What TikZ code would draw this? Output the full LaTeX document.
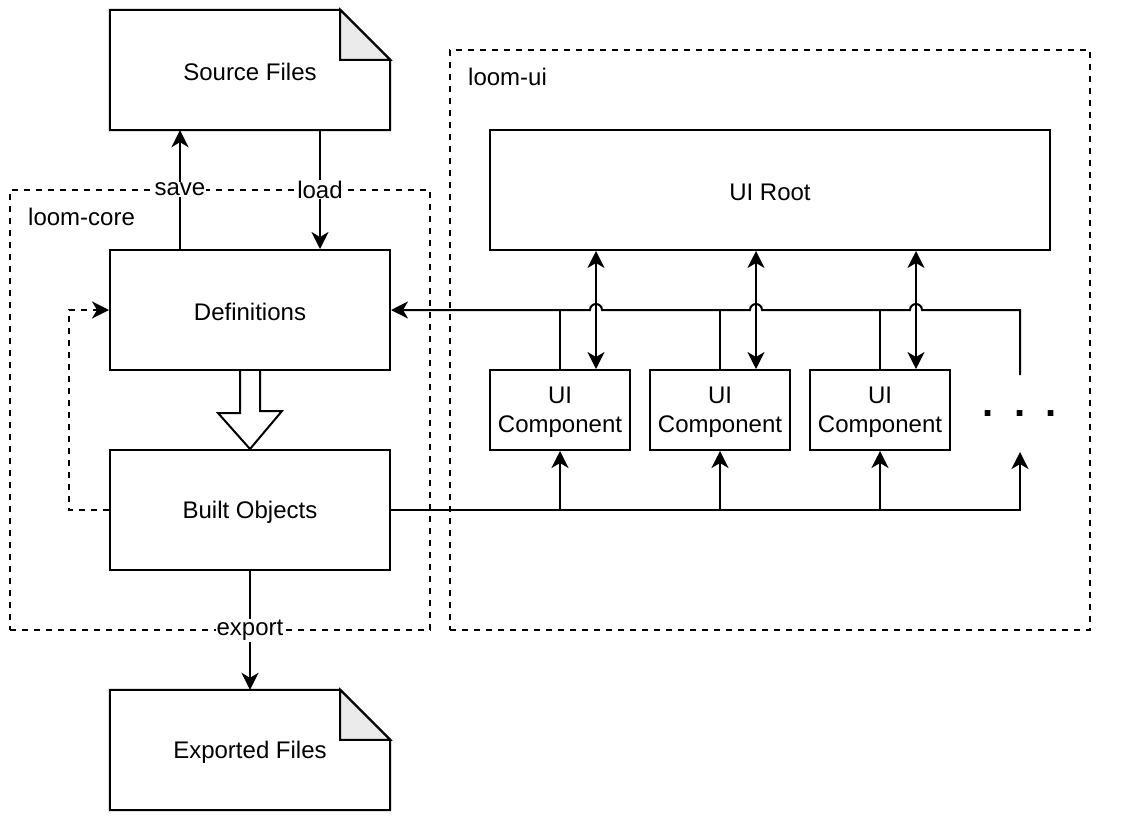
\documentclass[tikz,border=0pt]{standalone}
\usepackage{fontspec}
\setmainfont{Liberation Sans}
\usetikzlibrary{arrows.meta,calc}
\newcommand\docoutline[1]{%
  \draw[line width=2pt,line join=miter] (#1.north west) -- ([xshift=-50pt]#1.north east) -- ([yshift=-50pt]#1.north east) -- (#1.south east) -- (#1.south west) -- cycle;
  \filldraw[line width=2pt,fill=foldgray,line join=miter] ([xshift=-50pt]#1.north east) -- ([xshift=-50pt,yshift=-50pt]#1.north east) -- ([yshift=-50pt]#1.north east) -- cycle;}
\newcommand\lowr[1]{\raisebox{-2pt}[\height][\depth]{#1}}
\definecolor{foldgray}{HTML}{EBEBEB}
\begin{document}
\begin{tikzpicture}[x=1pt,y=-1pt,
  every node/.style={font=\fontsize{24}{29}\selectfont},
  box/.style={draw,line width=2pt,inner sep=0pt,align=center},
  docnode/.style={inner sep=0pt,minimum width=280pt,minimum height=120pt},
  group/.style={draw,line width=2pt,dash pattern=on 6pt off 6pt},
  conn/.style={line width=2pt},
  lbl/.style={fill=white,inner sep=1pt},
  >={Stealth[length=17pt,width=17pt,inset=5pt]}]
\useasboundingbox (0,0) rectangle (1122,822);
% groups
\node[group,minimum width=420pt,minimum height=440pt,inner sep=0pt] (core) at (220,410) {};
\node[group,minimum width=640pt,minimum height=580pt,inner sep=0pt] (ui) at (770,340) {};
\node[anchor=west,inner sep=0pt] (corelbl) at (28,217) {loom-core};
\node[anchor=west,inner sep=0pt] (uilbl) at (468,77) {loom-ui};
% documents
\node[docnode] (src) at (250,70) {};
\docoutline{src}
\node (srct) at (250,72) {Source Files};
\node[docnode] (exp) at (250,750) {};
\docoutline{exp}
\node (expt) at (250,752) {Exported Files};
% core boxes
\node[box,minimum width=280pt,minimum height=120pt] (defs) at (250,310) {\lowr{Definitions}};
\node[box,minimum width=280pt,minimum height=120pt] (built) at (250,510) {\lowr{Built Objects}};
% ui boxes
\node[box,minimum width=560pt,minimum height=120pt] (root) at (770,190) {\lowr{UI Root}};
\node[box,minimum width=140pt,minimum height=80pt] (c1) at (560,410) {\lowr{UI}\\\lowr{Component}};
\node[box,minimum width=140pt,minimum height=80pt] (c2) at (720,410) {\lowr{UI}\\\lowr{Component}};
\node[box,minimum width=140pt,minimum height=80pt] (c3) at (880,410) {\lowr{UI}\\\lowr{Component}};
\node[inner sep=0pt,anchor=base,font=\fontsize{40}{40}\selectfont\bfseries] (dots) at (1020,416) {.\hspace{20.4pt}.\hspace{20.4pt}.};
\coordinate (dtop) at (1020,375);
\coordinate (dbot) at (1020,452);
\coordinate (h1) at (596,310);
\coordinate (h2) at (756,310);
\coordinate (h3) at (916,310);
% save / load / export
\draw[conn,->] ([xshift=-70pt]defs.north) -- ([xshift=-70pt]src.south) node[midway,lbl] {save};
\draw[conn,->] ([xshift=70pt]src.south) -- ([xshift=70pt]defs.north) node[midway,lbl] {load};
\draw[conn,->] (built.south) -- (exp.north) node[midway,lbl] {export};
% hollow arrow
\draw[line width=2pt,fill=white,line join=miter] ([xshift=-10pt]defs.south) -- ++(0,42) -- ++(-22,0) -- (built.north) -- ++(32,-38) -- ++(-22,0) -- ([xshift=10pt]defs.south);
% feedback
\draw[conn,->,dash pattern=on 6pt off 6pt] (built.west) -- ++(-40,0) |- (defs.west);
% top bus with hops
\draw[conn,->] (dtop) |- ([xshift=6pt]h3) arc[start angle=0,end angle=180,radius=6pt] -- ([xshift=6pt]h2) arc[start angle=0,end angle=180,radius=6pt] -- ([xshift=6pt]h1) arc[start angle=0,end angle=180,radius=6pt] -- (defs.east);
\foreach \c in {c1,c2,c3} {\draw[conn] (\c.north) -- (\c.north |- defs.east);}
% double arrows
\draw[conn,<->] (c1.north -| h1) -- (root.south -| h1);
\draw[conn,<->] (c2.north -| h2) -- (root.south -| h2);
\draw[conn,<->] (c3.north -| h3) -- (root.south -| h3);
% bottom bus
\draw[conn,->] (built.east) -| (dbot);
\foreach \c in {c1,c2,c3} {\draw[conn,->] (\c.south |- built.east) -- (\c.south);}
\end{tikzpicture}
\end{document}
